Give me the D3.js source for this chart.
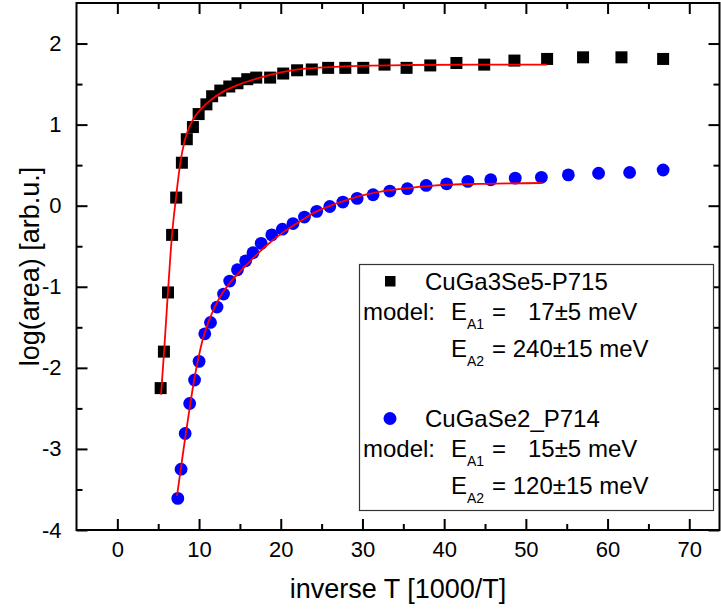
<!DOCTYPE html>
<html>
<head>
<meta charset="utf-8">
<script src="https://cdn.jsdelivr.net/npm/d3@7"></script>
<style>
  html, body { margin: 0; padding: 0; background: #fff; }
  svg { display: block; font-family: "Liberation Sans", Arial, sans-serif; }
</style>
</head>
<body>
<svg id="chart" width="721" height="609"></svg>
<script>
// CuGa3Se5-P715: measured log(area) vs inverse temperature
const cgs5X = [5.3, 5.7, 6.2, 6.7, 7.2, 7.9, 8.5, 9.25, 9.95, 10.9, 11.6, 12.6, 13.7, 14.7, 15.9, 17.0,
               18.7, 20.3, 22.0, 23.8, 25.8, 27.9, 30.1, 32.7, 35.4, 38.3, 41.5, 44.9, 48.6, 52.6, 57.0, 61.7, 66.8];
const cgs5Y = [-2.25, -1.8, -1.07, -0.36, 0.10, 0.53, 0.82, 0.97, 1.13, 1.25, 1.35, 1.42, 1.47, 1.51, 1.56, 1.58,
               1.58, 1.63, 1.67, 1.68, 1.70, 1.70, 1.70, 1.74, 1.70, 1.73, 1.76, 1.74, 1.79, 1.81, 1.83, 1.83, 1.81];

// CuGa3Se5-P715: two-activation-energy model curve
const cgs5FitX = [5.35, 5.75, 6.19, 6.69, 7.18, 7.71, 8.24, 8.8, 9.5, 10.3, 11.4, 13.0, 15.0, 17.5, 20, 23, 26, 30, 36, 44, 52.6];
const cgs5FitY = [-2.33, -1.75, -1.07, -0.36, 0.10, 0.53, 0.80, 0.97, 1.10, 1.20, 1.30, 1.41, 1.50, 1.58, 1.645, 1.69, 1.71, 1.725, 1.735, 1.74, 1.74];

// CuGaSe2_P714: measured log(area) vs inverse temperature
const cgs2X = [7.4, 7.8, 8.3, 8.85, 9.45, 10.0, 10.7, 11.4, 12.2, 13.0, 13.75, 14.7, 15.7, 16.6, 17.6, 18.9, 20.2, 21.5,
               22.9, 24.4, 26.0, 27.6, 29.35, 31.3, 33.35, 35.5, 37.8, 40.3, 42.9, 45.7, 48.7, 51.9, 55.2, 58.9, 62.7, 66.8];
const cgs2Y = [-3.61, -3.25, -2.81, -2.44, -2.15, -1.92, -1.58, -1.44, -1.25, -1.09, -0.93, -0.79, -0.68, -0.58, -0.465, -0.36, -0.29, -0.22,
               -0.14, -0.07, -0.01, 0.045, 0.09, 0.135, 0.18, 0.21, 0.25, 0.27, 0.30, 0.32, 0.34, 0.35, 0.38, 0.40, 0.41, 0.44];

// CuGaSe2_P714: model curve
const cgs2FitX = [7.3, 7.8, 8.32, 8.93, 9.4, 9.9, 10.4, 11.4, 12.6, 13.8, 15.05, 16.3, 17.5, 18.5, 20.4, 22.4, 24.4, 26.9, 29.3, 32.6, 35.9, 39, 44.4, 52];
const cgs2FitY = [-3.58, -3.22, -2.85, -2.44, -2.15, -1.89, -1.67, -1.37, -1.12, -0.95, -0.81, -0.68, -0.56, -0.47, -0.32, -0.19, -0.07, 0.03, 0.11, 0.18, 0.22, 0.25, 0.27, 0.28];

// Axis ticks
const xTicks = [0, 10, 20, 30, 40, 50, 60, 70];
const xMinorTicks = [5, 15, 25, 35, 45, 55, 65];
const yTicks = [-4, -3, -2, -1, 0, 1, 2];
const yMinorTicks = [-3.5, -2.5, -1.5, -0.5, 0.5, 1.5];

// Legend entries
const legendNames = ["CuGa3Se5-P715", "CuGaSe2_P714"];
const legendEA1 = ["17±5 meV", "15±5 meV"];
const legendEA2 = ["= 240±15 meV", "= 120±15 meV"];

const svg = d3.select("#chart");
const plot = { left: 76.5, right: 719.5, top: 3, bottom: 530 };

const x = d3.scaleLinear().domain([-5, 73.7]).range([plot.left, plot.right]);
const y = d3.scaleLinear().domain([-4, 2.5]).range([plot.bottom, plot.top]);

const zip = (xs, ys) => xs.map((v, i) => [v, ys[i]]);

// Axes (ticks pointing inward)
function styleAxis(g, fontSize) {
  g.select(".domain").remove();
  g.selectAll(".tick line").attr("stroke", "#000").attr("stroke-width", 2);
  g.selectAll(".tick text").attr("fill", "#000").style("font-size", fontSize + "px")
    .style("font-family", "'Liberation Sans', Arial, sans-serif");
}

const gx = svg.append("g").attr("transform", `translate(0,${plot.bottom})`)
  .call(d3.axisBottom(x).tickValues(xTicks).tickSizeInner(-11).tickSizeOuter(0).tickPadding(11));
styleAxis(gx, 22);
const gxm = svg.append("g").attr("transform", `translate(0,${plot.bottom})`)
  .call(d3.axisBottom(x).tickValues(xMinorTicks).tickSizeInner(-6).tickSizeOuter(0).tickFormat(""));
styleAxis(gxm, 22);

const gy = svg.append("g").attr("transform", `translate(${plot.left},0)`)
  .call(d3.axisLeft(y).tickValues(yTicks).tickSizeInner(-11).tickSizeOuter(0).tickPadding(15).tickFormat(d3.format("d")));
styleAxis(gy, 22);
gy.selectAll(".tick text").text(d => (d < 0 ? "-" : "") + Math.abs(d));
const gym = svg.append("g").attr("transform", `translate(${plot.left},0)`)
  .call(d3.axisLeft(y).tickValues(yMinorTicks).tickSizeInner(-6).tickSizeOuter(0).tickFormat(""));
styleAxis(gym, 22);

// Mirror ticks on the top and right
const gt = svg.append("g").attr("transform", `translate(0,${plot.top})`)
  .call(d3.axisTop(x).tickValues(xTicks).tickSizeInner(-11).tickSizeOuter(0).tickFormat(""));
styleAxis(gt, 22);
const gtm = svg.append("g").attr("transform", `translate(0,${plot.top})`)
  .call(d3.axisTop(x).tickValues(xMinorTicks).tickSizeInner(-6).tickSizeOuter(0).tickFormat(""));
styleAxis(gtm, 22);
const gr = svg.append("g").attr("transform", `translate(${plot.right},0)`)
  .call(d3.axisRight(y).tickValues(yTicks).tickSizeInner(-11).tickSizeOuter(0).tickFormat(""));
styleAxis(gr, 22);
const grm = svg.append("g").attr("transform", `translate(${plot.right},0)`)
  .call(d3.axisRight(y).tickValues(yMinorTicks).tickSizeInner(-6).tickSizeOuter(0).tickFormat(""));
styleAxis(grm, 22);

// Frame
svg.append("rect")
  .attr("x", plot.left).attr("y", plot.top)
  .attr("width", plot.right - plot.left).attr("height", plot.bottom - plot.top)
  .attr("fill", "none").attr("stroke", "#000").attr("stroke-width", 2);

// Axis titles
svg.append("text")
  .attr("x", (plot.left + plot.right) / 2).attr("y", 598)
  .attr("text-anchor", "middle").style("font-size", "27px").text("inverse T [1000/T]");
svg.append("text")
  .attr("transform", `translate(39,${(plot.top + plot.bottom) / 2}) rotate(-90)`)
  .attr("text-anchor", "middle").style("font-size", "27px").text("log(area) [arb.u.]");

// Data markers
const sq = 12;
svg.append("g").selectAll("rect").data(zip(cgs5X, cgs5Y)).join("rect")
  .attr("x", d => x(d[0]) - sq / 2).attr("y", d => y(d[1]) - sq / 2)
  .attr("width", sq).attr("height", sq).attr("fill", "#000");

svg.append("g").selectAll("circle").data(zip(cgs2X, cgs2Y)).join("circle")
  .attr("cx", d => x(d[0])).attr("cy", d => y(d[1])).attr("r", 6.4).attr("fill", "#0000ff");

// Model curves
const line = d3.line().x(d => x(d[0])).y(d => y(d[1])).curve(d3.curveMonotoneX);
svg.append("path").datum(zip(cgs5FitX, cgs5FitY)).attr("d", line)
  .attr("fill", "none").attr("stroke", "#ff0000").attr("stroke-width", 1.8);
svg.append("path").datum(zip(cgs2FitX, cgs2FitY)).attr("d", line)
  .attr("fill", "none").attr("stroke", "#ff0000").attr("stroke-width", 1.8);

// Legend
const lg = svg.append("g");
lg.append("rect").attr("x", 359.5).attr("y", 264.5).attr("width", 354).attr("height", 246)
  .attr("fill", "#fff").attr("stroke", "#333").attr("stroke-width", 1.2);

const rowTop = [290, 427];
legendNames.forEach((name, i) => {
  const b = rowTop[i];
  if (i === 0) {
    lg.append("rect").attr("x", 385).attr("y", b - 14).attr("width", 10.5).attr("height", 10.5).attr("fill", "#000");
  } else {
    lg.append("circle").attr("cx", 390).attr("cy", b - 8.5).attr("r", 6.5).attr("fill", "#0000ff");
  }
  lg.append("text").attr("x", 425).attr("y", b).style("font-size", "24px").text(name);

  const b2 = b + 30;
  lg.append("text").attr("x", 363).attr("y", b2).style("font-size", "24px").text("model:");
  lg.append("text").attr("x", 451).attr("y", b2).style("font-size", "24px").text("E");
  lg.append("text").attr("x", 467).attr("y", b2 + 9).style("font-size", "14px").text("A1");
  lg.append("text").attr("x", 492).attr("y", b2).style("font-size", "24px").text("=");
  lg.append("text").attr("x", 528).attr("y", b2).style("font-size", "24px").text(legendEA1[i]);

  const b3 = b + 67;
  lg.append("text").attr("x", 451).attr("y", b3).style("font-size", "24px").text("E");
  lg.append("text").attr("x", 467).attr("y", b3 + 9).style("font-size", "14px").text("A2");
  lg.append("text").attr("x", 492).attr("y", b3).style("font-size", "24px").text(legendEA2[i]);
});
</script>
</body>
</html>
